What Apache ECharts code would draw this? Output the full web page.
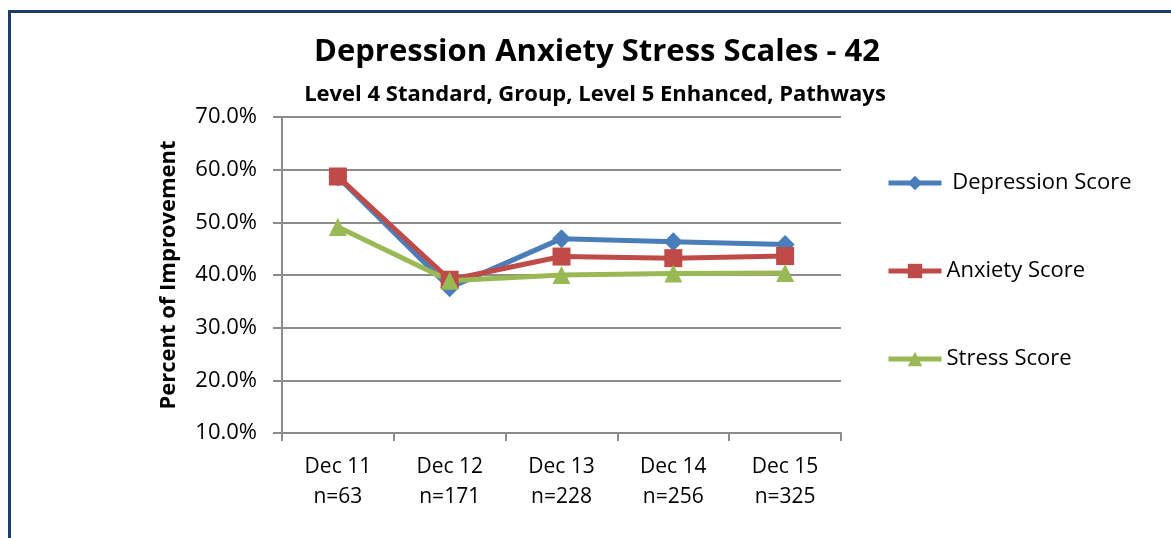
<!DOCTYPE html>
<html>
<head>
<meta charset="utf-8">
<script src="https://cdn.jsdelivr.net/npm/echarts@6/dist/echarts.min.js"></script>
<style>
    html, body { margin: 0; padding: 0; background: #fff; }
    #main { width: 1171px; height: 538px; }
    .frame {
        position: absolute;
        left: 8px;
        top: 10px;
        width: 1200px;
        height: 600px;
        border-left: 3px solid #1f3d66;
        border-top: 3px solid #1f3d66;
        pointer-events: none;
    }
</style>
</head>
<body>
<div id="main"></div>
<div class="frame"></div>
<script>
var categories = ['Dec 11\nn=63', 'Dec 12\nn=171', 'Dec 13\nn=228', 'Dec 14\nn=256', 'Dec 15\nn=325'];
var depression = [58.6, 37.6, 46.9, 46.3, 45.8];
var anxiety = [58.7, 39.1, 43.5, 43.2, 43.6];
var stress = [49.1, 38.9, 40.0, 40.3, 40.4];
var yTicks = [10, 20, 30, 40, 50, 60, 70];

var font = '"Open Sans", Lato, sans-serif';

function line(name, data, color, symbol, size) {
    return {
        name: name,
        type: 'line',
        data: data,
        symbol: symbol,
        symbolSize: size,
        showAllSymbol: true,
        itemStyle: { color: color },
        lineStyle: { color: color, width: 5 },
        animation: false
    };
}

var myChart = echarts.init(document.getElementById('main'));
myChart.setOption({
    backgroundColor: '#fff',
    title: [{
        text: 'Depression Anxiety Stress Scales - 42',
        left: 592,
        top: 32,
        textAlign: 'center',
        textStyle: { fontFamily: font, fontWeight: 'bold', fontSize: 31, color: '#000' }
    }, {
        text: 'Level 4 Standard, Group, Level 5 Enhanced, Pathways',
        left: 590,
        top: 79,
        textAlign: 'center',
        textStyle: { fontFamily: font, fontWeight: 'bold', fontSize: 22, color: '#000' }
    }],
    legend: {
        orient: 'vertical',
        left: 881,
        top: 167,
        itemWidth: 53,
        itemHeight: 18,
        itemGap: 66,
        textStyle: { fontFamily: font, fontSize: 22, color: '#000' },
        lineStyle: { width: 5 },
        formatter: function (name) {
            return name === 'Depression Score' ? ' ' + name : name;
        },
        data: ['Depression Score', 'Anxiety Score', 'Stress Score']
    },
    grid: { left: 282, right: 330, top: 117, bottom: 105 },
    xAxis: {
        type: 'category',
        data: categories,
        boundaryGap: true,
        axisLine: { lineStyle: { color: '#8c8c8c', width: 2 } },
        axisTick: { show: true, length: 8, lineStyle: { color: '#8c8c8c', width: 2 } },
        axisLabel: { fontFamily: font, fontSize: 21, color: '#000', lineHeight: 30, margin: 19 }
    },
    yAxis: {
        type: 'value',
        min: 10,
        max: 70,
        interval: 10,
        name: 'Percent of Improvement',
        nameLocation: 'middle',
        nameGap: 102,
        nameTextStyle: { fontFamily: font, fontWeight: 'bold', fontSize: 22, color: '#000' },
        axisLine: { show: true, lineStyle: { color: '#8c8c8c', width: 2 } },
        axisTick: { show: true, length: 9, lineStyle: { color: '#8c8c8c', width: 2 } },
        splitLine: { lineStyle: { color: '#8c8c8c', width: 2 } },
        axisLabel: {
            fontFamily: font, fontSize: 22, color: '#000', margin: 25,
            formatter: function (v) { return v.toFixed(1) + '%'; }
        }
    },
    series: [
        line('Depression Score', depression, '#4a7ebb', 'diamond', 19),
        line('Anxiety Score', anxiety, '#be4b48', 'rect', 18),
        line('Stress Score', stress, '#98b954', 'triangle', 18)
    ]
});
</script>
</body>
</html>
